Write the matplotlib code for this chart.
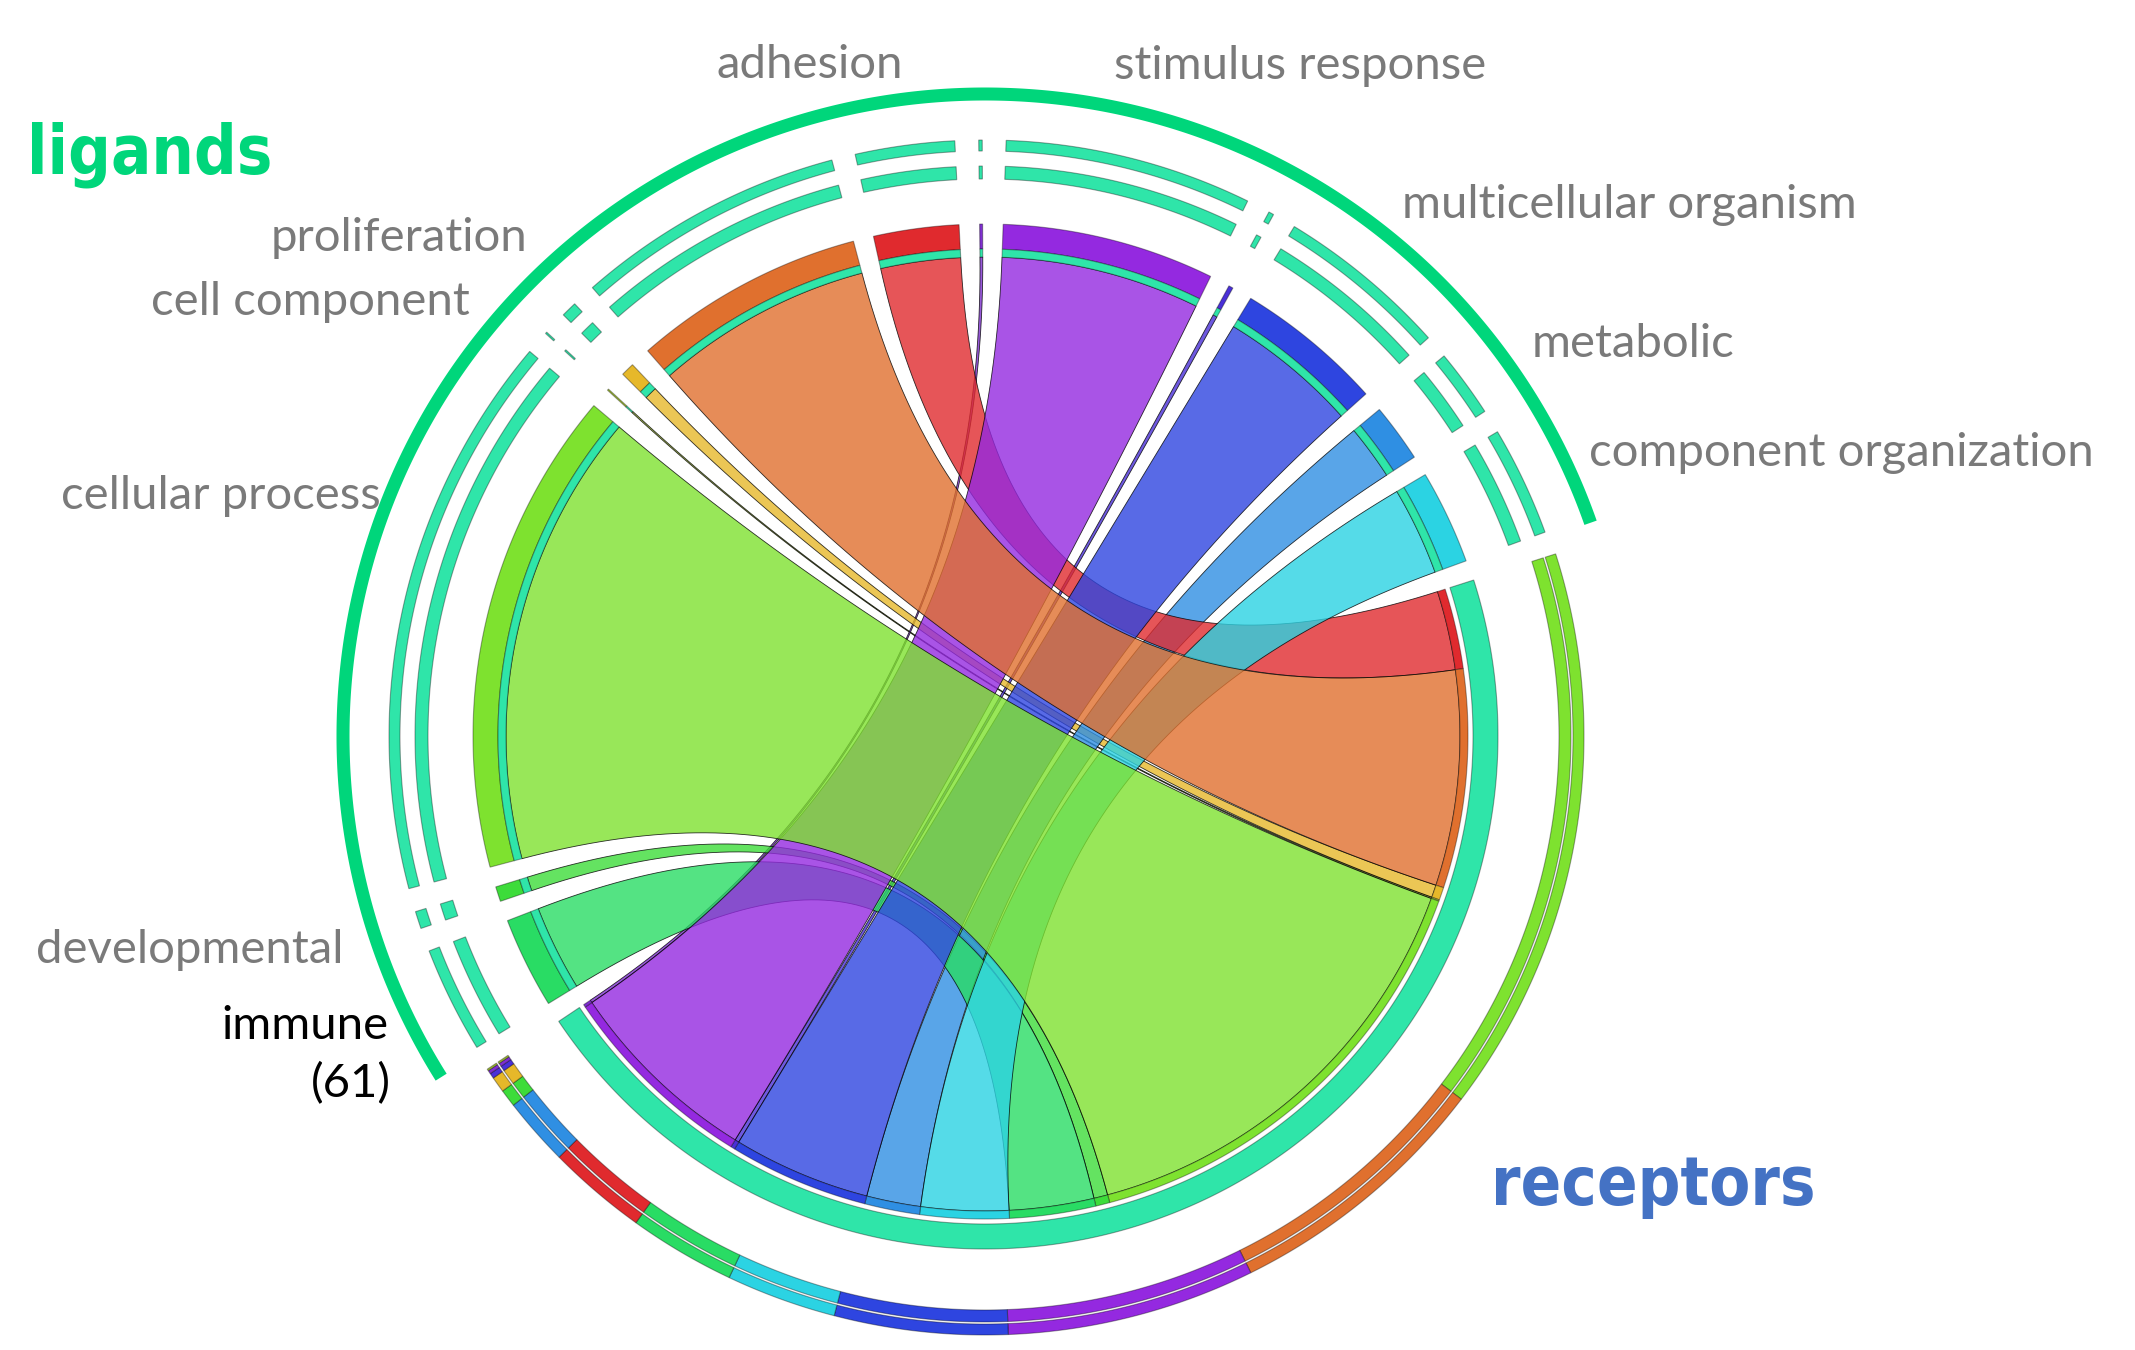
import numpy as np
import matplotlib
matplotlib.use("Agg")
import matplotlib.pyplot as plt
from matplotlib.patches import Polygon

# ligand groups, clockwise from the lower left (empty label = not labelled)
ligand_labels = ["immune", "developmental", "cellular process", "cell component",
                 "proliferation", "", "adhesion", "", "stimulus response", "",
                 "multicellular organism", "metabolic", "component organization"]
ligand_values = [61, 10, 324, 1, 9, 155, 57, 2, 142, 3, 99, 39, 63]
ligand_colors = ["#29dc64", "#3ddc3a", "#7ee22f", "#a3c234", "#e6b82a", "#e0702e",
                 "#e02a2e", "#7f2fd0", "#9429e0", "#4a30d8", "#2e45e0", "#2f8fe3",
                 "#2bd3e3"]
receptor_color = "#2fe5a9"
# order of the ligand ribbons along the receptor arc (clockwise)
receptor_order = [6, 5, 4, 3, 2, 1, 0, 12, 11, 10, 9, 8, 7]

# label anchors (x, baseline y, alignment, colour)
label_pos = {
    "adhesion": (903, 78, "right", "#7a7a7a"),
    "stimulus response": (1114, 79, "left", "#7a7a7a"),
    "multicellular organism": (1402, 218, "left", "#7a7a7a"),
    "metabolic": (1532, 357, "left", "#7a7a7a"),
    "component organization": (1589, 466, "left", "#7a7a7a"),
    "proliferation": (527, 251, "right", "#7a7a7a"),
    "cell component": (470, 315, "right", "#7a7a7a"),
    "cellular process": (381, 509, "right", "#7a7a7a"),
    "developmental": (344, 963, "right", "#7a7a7a"),
    "immune": (388, 1039, "right", "black"),
}

CX, CY = 985, 736
PAD = 2.3
START = 238.5


def pt(ang, r):
    a = np.radians(ang)
    return np.array([CX + r * np.sin(a), CY - r * np.cos(a)])


def arc_pts(a0, a1, r):
    n = max(2, int(abs(a1 - a0) * 3) + 2)
    t = np.radians(np.linspace(a0, a1, n))
    return np.column_stack([CX + r * np.sin(t), CY - r * np.cos(t)])


def band(ax, a0, a1, r0, r1, color, ec=(0, 0, 0, 0.35), lw=0.8, z=2):
    poly = np.vstack([arc_pts(a0, a1, r1), arc_pts(a1, a0, r0)])
    ax.add_patch(Polygon(poly, closed=True, facecolor=color, edgecolor=ec,
                         linewidth=lw, zorder=z))


def bezier(p0, p2, n=80):
    t = np.linspace(0, 1, n)[:, None]
    c = np.array([CX, CY])
    return (1 - t) ** 2 * p0 + 2 * (1 - t) * t * c + t ** 2 * p2


def ribbon(ax, a0, a1, ra, b0, b1, rb, color, z):
    poly = np.vstack([arc_pts(a0, a1, ra),
                      bezier(pt(a1, ra), pt(b0, rb)),
                      arc_pts(b0, b1, rb),
                      bezier(pt(b1, rb), pt(a0, ra))])
    ax.add_patch(Polygon(poly, closed=True, facecolor=color, alpha=0.8,
                         edgecolor=(0, 0, 0, 0.25), linewidth=0.6, zorder=z))


# layout
total = sum(ligand_values)
k = (360 - 14 * PAD) / (2 * total)
lig_ang = []
a = START
for v in ligand_values:
    lig_ang.append((a, a + v * k))
    a += v * k + PAD
lig_end = a - PAD
rec_start = a
rec_ang = {}
b = rec_start
for i in receptor_order:
    rec_ang[i] = (b, b + ligand_values[i] * k)
    b += ligand_values[i] * k
rec_end = b

fig = plt.figure(figsize=(21.35, 13.5), dpi=100)
ax = fig.add_axes([0, 0, 1, 1])
ax.set_xlim(0, 2135)
ax.set_ylim(1350, 0)
ax.axis("off")

# ribbons, small ones first
for z, i in enumerate(np.argsort(ligand_values)):
    a0, a1 = lig_ang[i]
    b0, b1 = rec_ang[i]
    ribbon(ax, a0, a1, 479, b0, b1, 475, ligand_colors[i], 3 + z * 0.01)

# ligand arcs
for i, (a0, a1) in enumerate(lig_ang):
    band(ax, a0, a1, 487, 512, ligand_colors[i], z=4)
    band(ax, a0, a1, 479, 487, receptor_color, z=4)
    band(ax, a0, a1, 557, 570, receptor_color, z=4)
    band(ax, a0, a1, 585, 596, receptor_color, z=4)

# receptor arc
band(ax, rec_start, rec_end, 488, 513, receptor_color, z=4)
for i in receptor_order:
    b0, b1 = rec_ang[i]
    band(ax, b0, b1, 475, 483, ligand_colors[i], z=4)

# receptor outer rings, biggest first
b = rec_start
for i in sorted(range(len(ligand_values)), key=lambda j: -ligand_values[j]):
    w = ligand_values[i] * k
    band(ax, b, b + w, 574, 586, ligand_colors[i], z=4)
    band(ax, b, b + w, 588, 599, ligand_colors[i], z=4)
    b += w

# ligand group arc
band(ax, START - 0.6, lig_end + 0.6, 635.5, 648.5, "#00d67b", ec="none", lw=0, z=4)

# labels
for name in ligand_labels:
    if name in label_pos:
        x, y, ha, col = label_pos[name]
        ax.text(x, y, name, ha=ha, va="baseline", fontsize=34, color=col,
                family=["Lato", "DejaVu Sans"])
ax.text(391, 1097, "(%d)" % ligand_values[0], ha="right", va="baseline",
        fontsize=34, color="black", family=["Lato", "DejaVu Sans"])

ax.text(27, 174, "ligands", ha="left", va="baseline", fontsize=48,
        fontweight="bold", fontstretch="condensed", color="#00d67b",
        family=["DejaVu Sans"])
ax.text(1491, 1205, "receptors", ha="left", va="baseline", fontsize=48,
        fontweight="bold", fontstretch="condensed", color="#4472c4",
        family=["DejaVu Sans"])

fig.savefig("out.png", dpi=100)
